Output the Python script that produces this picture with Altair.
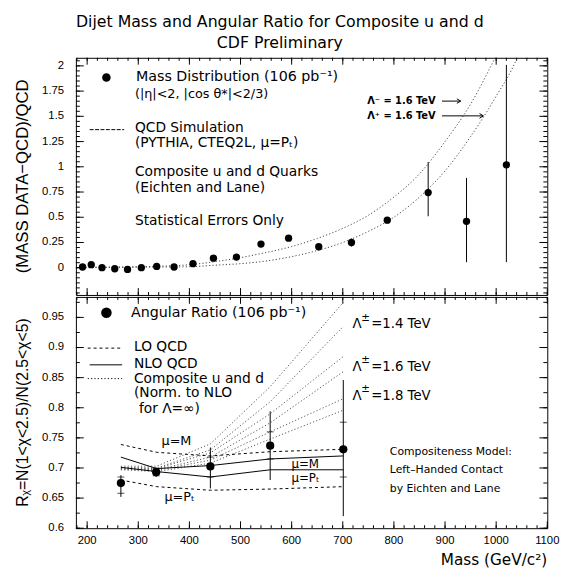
import altair as alt
import pandas as pd

# ---------------- data: top panel (mass distribution) ----------------
mass_bin = [191, 208, 229, 254, 279, 306, 336, 370, 407, 447, 492, 540, 594, 653, 717, 787, 867, 942, 1020]
mass_ratio = [0.007, 0.03, 0.0, -0.01, -0.017, 0.0, 0.013, 0.007, 0.04, 0.095, 0.105, 0.234, 0.293, 0.208, 0.25, 0.471, 0.745, 0.46, 1.02]
mass_err_lo = [0.0, 0.02, -0.01, -0.02, -0.027, -0.01, 0.003, -0.003, 0.03, 0.085, 0.09, 0.214, 0.273, 0.18, 0.21, 0.44, 0.51, 0.055, 0.055]
mass_err_hi = [0.014, 0.04, 0.01, 0.0, -0.007, 0.01, 0.023, 0.017, 0.05, 0.105, 0.12, 0.254, 0.313, 0.236, 0.29, 0.50, 1.047, 0.89, 2.01]

lam_minus_mass = [190, 300, 400, 450, 500, 540, 600, 650, 700, 750, 800, 850, 900, 950, 1000, 1010]
lam_minus_val = [0.005, 0.01, 0.03, 0.06, 0.1, 0.14, 0.21, 0.29, 0.39, 0.52, 0.70, 0.93, 1.25, 1.62, 2.1, 2.2]
lam_plus_mass = [190, 300, 400, 450, 500, 540, 600, 650, 700, 750, 800, 850, 900, 950, 1000, 1040, 1050]
lam_plus_val = [0.0, 0.005, 0.01, 0.025, 0.04, 0.06, 0.11, 0.17, 0.25, 0.36, 0.50, 0.70, 0.96, 1.30, 1.70, 2.07, 2.2]

# ---------------- data: bottom panel (angular ratio) ----------------
ang_mass = [266, 335, 441, 558, 701]
ang_val = [0.675, 0.693, 0.7025, 0.737, 0.731]
ang_lo = [0.652, 0.685, 0.666, 0.680, 0.62]
ang_hi = [0.688, 0.701, 0.734, 0.794, 0.846]
ang_in_lo = [0.658, 0.687, 0.685, 0.715, 0.685]
ang_in_hi = [0.685, 0.699, 0.718, 0.76, 0.776]

theory_mass = [266, 336, 441, 558, 701]
lo_mu_m = [0.739, 0.726, 0.72, 0.727, 0.731]
lo_mu_pt = [0.680, 0.669, 0.663, 0.665, 0.669]
nlo_mu_m = [0.718, 0.699, 0.704, 0.715, 0.720]
nlo_mu_pt = [0.701, 0.694, 0.685, 0.697, 0.697]
comp_14_a = [0.703, 0.703, 0.74, 0.835, 0.975]
comp_14_b = [0.701, 0.700, 0.73, 0.81, 0.935]
comp_16_a = [0.700, 0.699, 0.725, 0.79, 0.885]
comp_16_b = [0.699, 0.697, 0.718, 0.775, 0.86]
comp_18_a = [0.698, 0.696, 0.713, 0.76, 0.815]
comp_18_b = [0.697, 0.694, 0.708, 0.748, 0.796]

# ---------------- axis ticks and labels ----------------
x_major = [200, 300, 400, 500, 600, 700, 800, 900, 1000, 1100]
x_minor = list(range(180, 1101, 20))
top_major = [0, 0.25, 0.5, 0.75, 1, 1.25, 1.5, 1.75, 2]
top_minor = [round(-0.25 + 0.05 * i, 2) for i in range(47)]
bot_major = [0.6, 0.65, 0.7, 0.75, 0.8, 0.85, 0.9, 0.95]
bot_minor = [round(0.6 + 0.025 * i, 3) for i in range(16)]

# ---------------- style ----------------
W, H_TOP, H_BOT = 479, 241, 235
TXT = "DejaVu Sans"
AXF = "Liberation Sans"
DOT = [1.2, 2.2]

xs = alt.Scale(domain=[178, 1100], nice=False, zero=False)
ys_top = alt.Scale(domain=[-0.27, 2.08], nice=False, zero=False)
ys_bot = alt.Scale(domain=[0.6, 0.984], nice=False, zero=False)

one = pd.DataFrame({"a": [0]})


def text(s, x, y, size=14, align="left", font=TXT, weight="normal", angle=0):
    return alt.Chart(one).mark_text(
        text=s, align=align, baseline="middle", font=font, fontSize=size, color="black",
        fontWeight=weight, angle=angle
    ).encode(x=alt.value(x), y=alt.value(y))


def seg(x1, x2, y, dash=None, width=1.0):
    kw = dict(color="black", strokeWidth=width)
    if dash:
        kw["strokeDash"] = dash
    return alt.Chart(one).mark_rule(**kw).encode(x=alt.value(x1), x2=alt.value(x2), y=alt.value(y))


def dot(x, y, size):
    return alt.Chart(one).mark_circle(size=size, color="black", opacity=1).encode(
        x=alt.value(x), y=alt.value(y))


def arrowhead(x, y):
    return alt.Chart(one).mark_point(
        shape="M-1,-0.6L0,0L-1,0.6", filled=False, size=60, color="black", strokeWidth=1, opacity=1
    ).encode(x=alt.value(x), y=alt.value(y))


class Panel:
    """Shared scales of one panel; the frame ticks and labels are drawn through them."""

    def __init__(self, ys, h):
        self.ys, self.h = ys, h

    def X(self, f):
        return alt.X(f, scale=xs, axis=None)

    def Y(self, f):
        return alt.Y(f, scale=self.ys, axis=None)

    def xticks(self, vals, size, side):
        df = pd.DataFrame({"t": vals})
        y1, y2 = (self.h, self.h - size) if side == "bottom" else (0, size)
        return alt.Chart(df).mark_rule(color="black", strokeWidth=1).encode(
            x=self.X("t:Q"), y=alt.value(y1), y2=alt.value(y2))

    def yticks(self, vals, size, side):
        df = pd.DataFrame({"t": vals})
        x1, x2 = (0, size) if side == "left" else (W, W - size)
        return alt.Chart(df).mark_rule(color="black", strokeWidth=1).encode(
            y=self.Y("t:Q"), x=alt.value(x1), x2=alt.value(x2))

    def frame_ticks(self, ymaj, ymin):
        return [
            self.xticks(x_minor, 3, "bottom"), self.xticks(x_major, 7, "bottom"),
            self.xticks(x_minor, 3, "top"), self.xticks(x_major, 7, "top"),
            self.yticks(ymin, 4, "left"), self.yticks(ymaj, 8, "left"),
            self.yticks(ymin, 4, "right"), self.yticks(ymaj, 8, "right"),
        ]

    def ylabels(self, vals):
        df = pd.DataFrame({"t": vals})
        return alt.Chart(df).mark_text(font=AXF, fontSize=11.5, align="right", baseline="middle",
                                       color="black").encode(
            y=self.Y("t:Q"), x=alt.value(-12), text=alt.Text("t:Q", format="~g"))

    def xlabels(self, vals):
        df = pd.DataFrame({"t": vals})
        return alt.Chart(df).mark_text(font=AXF, fontSize=11.5, align="center", baseline="middle",
                                       color="black").encode(
            x=self.X("t:Q"), y=alt.value(self.h + 13), text=alt.Text("t:Q", format="d"))


# ---------------- top panel ----------------
top_pts = pd.DataFrame({"m": mass_bin, "v": mass_ratio, "lo": mass_err_lo, "hi": mass_err_hi})
curve_top = pd.concat([
    pd.DataFrame({"m": lam_minus_mass, "v": lam_minus_val, "s": "minus"}),
    pd.DataFrame({"m": lam_plus_mass, "v": lam_plus_val, "s": "plus"}),
])

P = Panel(ys_top, H_TOP)

top_layers = [
    *P.frame_ticks(top_major, top_minor),
    P.ylabels(top_major),
    text("(MASS DATA\u2212QCD)/QCD", -54, H_TOP / 2, 17, align="center", font=AXF, angle=270),
    alt.Chart(curve_top).mark_line(clip=True, color="#444", strokeWidth=1, strokeDash=DOT,
                                   interpolate="monotone").encode(
        x=P.X("m:Q"), y=P.Y("v:Q"), detail="s:N"),
    alt.Chart(top_pts).mark_rule(clip=True, color="black", strokeWidth=1).encode(
        x=P.X("m:Q"), y=P.Y("lo:Q"), y2="hi:Q"),
    alt.Chart(top_pts).mark_circle(size=55, color="black", opacity=1).encode(
        x=P.X("m:Q"), y=P.Y("v:Q")),
    dot(31, 20, 75),
    text("Mass Distribution (106 pb\u207b\u00b9)", 61, 20, 14.5),
    text("(|\u03b7|<2,    |cos \u03b8*|<2/3)", 60, 37, 13),
    seg(14, 49, 73, dash=[4, 1.5]),
    text("QCD Simulation", 60, 71),
    text("(PYTHIA, CTEQ2L, \u03bc=P\u209c)", 60, 87),
    text("Composite u and d Quarks", 60, 116),
    text("(Eichten and Lane)", 60, 132),
    text("Statistical Errors Only", 60, 166),
    text("\u039b\u207b = 1.6 TeV", 296, 44, 10, weight="bold"),
    seg(372, 391, 44),
    arrowhead(391, 44),
    text("\u039b\u207a = 1.6 TeV", 296, 59, 10, weight="bold"),
    seg(372, 414, 59),
    arrowhead(414, 59),
]
top = alt.layer(*top_layers).properties(width=W, height=H_TOP)

# ---------------- bottom panel ----------------
ang = pd.DataFrame({"m": ang_mass, "v": ang_val, "lo": ang_lo, "hi": ang_hi,
                    "ilo": ang_in_lo, "ihi": ang_in_hi})


def theory(vals, name):
    return pd.DataFrame({"m": theory_mass, "v": vals, "s": name})


lo_df = pd.concat([theory(lo_mu_m, "lo_m"), theory(lo_mu_pt, "lo_pt")])
nlo_df = pd.concat([theory(nlo_mu_m, "nlo_m"), theory(nlo_mu_pt, "nlo_pt")])
comp_df = pd.concat([theory(comp_14_a, "14a"), theory(comp_14_b, "14b"), theory(comp_16_a, "16a"),
                     theory(comp_16_b, "16b"), theory(comp_18_a, "18a"), theory(comp_18_b, "18b")])

B = Panel(ys_bot, H_BOT)

bot_layers = [
    *B.frame_ticks(bot_major, bot_minor),
    B.ylabels(bot_major),
    B.xlabels(x_major),
    text("R\u1d6a=N(1<\u03c7<2.5)/N(2.5<\u03c7<5)", -54, H_BOT / 2, 16, align="center", font=AXF,
         angle=270),
    text("Mass (GeV/c\u00b2)", W, H_BOT + 32, 15.5, align="right"),
    alt.Chart(comp_df).mark_line(clip=True, color="#555", strokeWidth=1, strokeDash=DOT).encode(
        x=B.X("m:Q"), y=B.Y("v:Q"), detail="s:N"),
    alt.Chart(lo_df).mark_line(clip=True, color="black", strokeWidth=1, strokeDash=[3, 3]).encode(
        x=B.X("m:Q"), y=B.Y("v:Q"), detail="s:N"),
    alt.Chart(nlo_df).mark_line(clip=True, color="black", strokeWidth=1).encode(
        x=B.X("m:Q"), y=B.Y("v:Q"), detail="s:N"),
    alt.Chart(ang).mark_rule(clip=True, color="black", strokeWidth=1).encode(
        x=B.X("m:Q"), y=B.Y("lo:Q"), y2="hi:Q"),
    alt.Chart(ang).mark_tick(color="black", thickness=1, size=7, orient="horizontal").encode(
        x=B.X("m:Q"), y=B.Y("ilo:Q")),
    alt.Chart(ang).mark_tick(color="black", thickness=1, size=7, orient="horizontal").encode(
        x=B.X("m:Q"), y=B.Y("ihi:Q")),
    alt.Chart(ang).mark_circle(size=70, color="black", opacity=1).encode(
        x=B.X("m:Q"), y=B.Y("v:Q")),
    dot(31, 16, 115),
    text("Angular Ratio (106 pb\u207b\u00b9)", 56, 16, 14.5),
    seg(12, 47, 52, dash=[3, 3]),
    text("LO QCD", 59, 51),
    seg(14, 47, 69),
    text("NLO QCD", 59, 68),
    seg(12, 47, 83, dash=DOT),
    text("Composite u and d", 59, 83),
    text("(Norm. to NLO", 59, 98),
    text("for \u039b=\u221e)", 64, 114),
    text("\u03bc=M", 87, 146, 13),
    text("\u03bc=P\u209c", 90, 203, 13),
    text("\u03bc=M", 219, 170, 12),
    text("\u03bc=P\u209c", 219, 184, 12),
    text("\u039b", 281, 28, 13.5), text("\u00b1", 290, 21, 10.5), text("=1.4 TeV", 300, 28, 13.5),
    text("\u039b", 281, 71, 13.5), text("\u00b1", 290, 64, 10.5), text("=1.6 TeV", 300, 71, 13.5),
    text("\u039b", 281, 101, 13.5), text("\u00b1", 290, 94, 10.5), text("=1.8 TeV", 300, 101, 13.5),
    text("Compositeness Model:", 319, 158, 11),
    text("Left\u2013Handed Contact", 319, 176, 11),
    text("by Eichten and Lane", 319, 195, 11),
]
bottom = alt.layer(*bot_layers).properties(width=W, height=H_BOT)

chart = alt.vconcat(top, bottom, spacing=0).properties(
    title=alt.TitleParams(
        text=["Dijet Mass and Angular Ratio for Composite u and d", "CDF Preliminary"],
        font=TXT, fontSize=16, fontWeight="normal", color="black", anchor="middle",
        frame="bounds", lineHeight=21, offset=6, dx=-7),
    padding={"left": 5, "top": 2, "right": 5, "bottom": 5},
).configure_view(stroke="black", strokeWidth=1).configure_concat(spacing=0)

chart.save("out.html", embed_options={"renderer": "svg", "actions": False})
